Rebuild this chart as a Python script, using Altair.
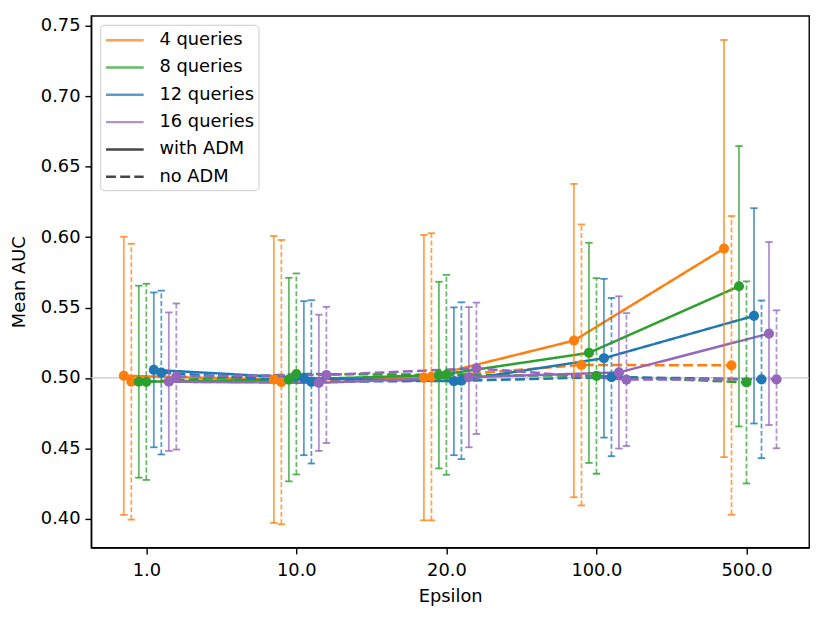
import json
import altair as alt
import pandas as pd

# ---- data ----
eps_labels = ["1.0", "10.0", "20.0", "100.0", "500.0"]
query_labels = ["4 queries", "8 queries", "12 queries", "16 queries"]
adm_labels = ["with ADM", "no ADM"]
query_colors = ["#ff7f0e", "#2ca02c", "#1f77b4", "#9467bd"]
chance_level = [0.5]

q4_adm_mean = [0.5015, 0.4989, 0.5002, 0.5265, 0.5919]
q4_adm_std = [0.0988, 0.1019, 0.1014, 0.1113, 0.1482]
q4_no_mean = [0.4973, 0.4970, 0.5008, 0.5092, 0.5089]
q4_no_std = [0.0980, 0.1010, 0.1020, 0.0998, 0.1061]

q8_adm_mean = [0.4973, 0.4988, 0.5020, 0.5178, 0.5651]
q8_adm_std = [0.0682, 0.0723, 0.0663, 0.0782, 0.0996]
q8_no_mean = [0.4972, 0.5028, 0.5022, 0.5014, 0.4968]
q8_no_std = [0.0697, 0.0714, 0.0710, 0.0695, 0.0718]

q12_adm_mean = [0.5057, 0.4998, 0.4976, 0.5140, 0.5441]
q12_adm_std = [0.0550, 0.0547, 0.0525, 0.0564, 0.0765]
q12_no_mean = [0.5038, 0.4972, 0.4980, 0.5006, 0.4990]
q12_no_std = [0.0582, 0.0580, 0.0557, 0.0562, 0.0560]

q16_adm_mean = [0.4973, 0.4965, 0.5005, 0.5039, 0.5315]
q16_adm_std = [0.0492, 0.0484, 0.0498, 0.0541, 0.0650]
q16_no_mean = [0.5010, 0.5021, 0.5068, 0.4988, 0.4990]
q16_no_std = [0.0519, 0.0484, 0.0467, 0.0472, 0.0490]

series = [
    [(q4_adm_mean, q4_adm_std), (q4_no_mean, q4_no_std)],
    [(q8_adm_mean, q8_adm_std), (q8_no_mean, q8_no_std)],
    [(q12_adm_mean, q12_adm_std), (q12_no_mean, q12_no_std)],
    [(q16_adm_mean, q16_adm_std), (q16_no_mean, q16_no_std)],
]

rows = []
for qi, q in enumerate(query_labels):
    for ai, adm in enumerate(adm_labels):
        means, stds = series[qi][ai]
        dodge = (2 * qi + ai - 3) * 0.05
        for ei, e in enumerate(eps_labels):
            rows.append({
                "eps": e, "q": q, "adm": adm,
                "x": ei + dodge,
                "mean": means[ei],
                "lo": means[ei] - stds[ei],
                "hi": means[ei] + stds[ei],
            })
df = pd.DataFrame(rows)

legend_domain = query_labels + adm_labels
color_scale = alt.Scale(domain=legend_domain, range=query_colors + ["black", "black"])
dash_scale = alt.Scale(domain=legend_domain, range=[[1, 0]] * 5 + [[10, 4.3]])

x_scale = alt.Scale(domain=[-0.3675, 4.4175], nice=False, zero=False)
y_scale = alt.Scale(domain=[0.3794, 0.7572], nice=False, zero=False)

x_enc = alt.X("x:Q", scale=x_scale,
              axis=alt.Axis(values=list(range(len(eps_labels))),
                            labelExpr=json.dumps(eps_labels) + "[datum.value]",
                            title="Epsilon", grid=False))
y_axis = alt.Axis(values=[0.40, 0.45, 0.50, 0.55, 0.60, 0.65, 0.70, 0.75],
                  format=".2f", title="Mean AUC", grid=False)

# horizontal line symbol, twice as long as the entry box
legend_symbol = "M-1,0H3"
legend_def = alt.Legend(title=None, symbolType=legend_symbol, symbolOpacity=1,
                        symbolStrokeWidth=2.5, symbolSize=361)

base = alt.Chart(df)

chance = alt.Chart(pd.DataFrame({"level": chance_level})).mark_rule(
    color="#c8c8c8", strokeWidth=1.2
).encode(y=alt.Y("level:Q", scale=y_scale, axis=y_axis))

lines = base.mark_line(strokeWidth=2.5).encode(
    x=x_enc,
    y=alt.Y("mean:Q", scale=y_scale, axis=y_axis),
    color=alt.Color("q:N", scale=color_scale, legend=legend_def),
    strokeDash=alt.StrokeDash("adm:N", scale=dash_scale, legend=legend_def),
)

bar_dash = alt.condition(alt.datum.adm == "no ADM", alt.value([5, 2.5]), alt.value([1, 0]))

bars = base.mark_rule(strokeWidth=1.8, opacity=0.72).encode(
    x=x_enc,
    y=alt.Y("lo:Q", scale=y_scale, axis=y_axis),
    y2="hi:Q",
    color=alt.Color("q:N", scale=color_scale),
    strokeDash=bar_dash,
)

caps = base.transform_fold(["lo", "hi"], as_=["end", "val"]).mark_tick(
    orient="horizontal", size=7.5, thickness=1.8, opacity=0.8
).encode(
    x=x_enc,
    y=alt.Y("val:Q", scale=y_scale, axis=y_axis),
    color=alt.Color("q:N", scale=color_scale),
)

points = base.mark_circle(size=105, opacity=1).encode(
    x=x_enc,
    y=alt.Y("mean:Q", scale=y_scale, axis=y_axis),
    color=alt.Color("q:N", scale=color_scale),
)

chart = alt.layer(chance, lines, bars, caps, points).properties(
    width=725, height=537,
    autosize=alt.AutoSizeParams(type="none"),
    padding={"left": 84, "top": 5, "right": 14, "bottom": 60},
).configure_view(
    stroke="black", strokeWidth=1.4
).configure_axis(
    labelFont="DejaVu Sans", titleFont="DejaVu Sans",
    labelFontSize=18, titleFontSize=18, titleFontWeight="normal",
    labelColor="black", titleColor="black",
    domainColor="black", domainWidth=1.4,
    tickColor="black", tickWidth=1.4, tickSize=6.3,
).configure_axisY(
    labelPadding=5, titlePadding=12
).configure_axisX(
    labelPadding=8, titlePadding=8
).configure_legend(
    orient="top-left", offset=9, padding=4.5,
    strokeColor="#cccccc", fillColor="white", cornerRadius=4,
    labelFont="DejaVu Sans", labelFontSize=18, labelColor="black",
    symbolType=legend_symbol, symbolSize=361, symbolStrokeWidth=2.5,
    rowPadding=7.6, labelOffset=33.5,
)

chart.save("out.html", embed_options={"renderer": "svg", "actions": False})
